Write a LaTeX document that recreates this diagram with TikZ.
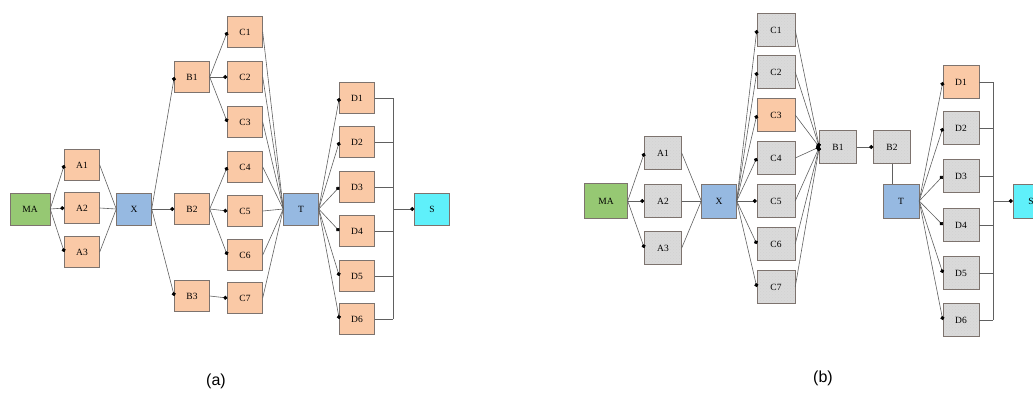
\documentclass[tikz,border=0pt]{standalone}
\usepackage{fontspec}
\setmainfont{Liberation Serif}
\newfontfamily\capfont{Liberation Sans}
\usetikzlibrary{arrows.meta,patterns}
\definecolor{peach}{RGB}{250,201,166}
\definecolor{boxline}{RGB}{125,115,110}
\definecolor{maGreen}{RGB}{150,200,115}
\definecolor{xBlue}{RGB}{150,185,225}
\definecolor{sCyan}{RGB}{95,240,250}
\definecolor{greybox}{RGB}{218,218,218}
\tikzset{box/.style = {draw=boxline, fill=peach, minimum width=35, minimum height=31, inner sep=0, font=\fontsize{9.5}{10}\selectfont}}
\tikzset{gbox/.style = {box, minimum width=37, minimum height=33, preaction={fill=greybox}, pattern=crosshatch dots, pattern color=gray!35}}
\tikzset{ar/.style = {-{Circle[length=4pt, black]}}}
\tikzset{wire/.style = {draw=gray!75!black, line width=0.6pt}}

\begin{document}
\begin{tikzpicture}[x=1pt, y=-1pt]
      \useasboundingbox (0, 0) rectangle (1033, 392);
      % (a)
      \node [box, fill=maGreen, minimum width=40, minimum height=32] (aMA) at (30, 209) {MA};
      \node [box] (aA1) at (82, 165) {A1};
      \node [box] (aA2) at (82, 208) {A2};
      \node [box] (aA3) at (82, 252) {A3};
      \node [box, fill=xBlue, minimum height=32] (aX) at (134, 209) {X};
      \node [box] (aB1) at (192, 77) {B1};
      \node [box] (aB2) at (192, 209) {B2};
      \node [box] (aB3) at (192, 296) {B3};
      \node [box] (aC1) at (245, 32) {C1};
      \node [box] (aC2) at (245, 77) {C2};
      \node [box] (aC3) at (245, 122) {C3};
      \node [box] (aC4) at (245, 167) {C4};
      \node [box] (aC5) at (245, 211) {C5};
      \node [box] (aC6) at (245, 255) {C6};
      \node [box] (aC7) at (245, 298) {C7};
      \node [box, fill=xBlue, minimum height=32] (aT) at (301, 209) {T};
      \node [box] (aD1) at (357, 98) {D1};
      \node [box] (aD2) at (357, 142) {D2};
      \node [box] (aD3) at (357, 187) {D3};
      \node [box] (aD4) at (357, 231) {D4};
      \node [box] (aD5) at (357, 276) {D5};
      \node [box] (aD6) at (357, 319) {D6};
      \node [box, fill=sCyan, minimum height=32] (aS) at (432, 209) {S};
      \coordinate (abus) at (393, 209);
      \foreach \i in {1,2,3} {
        \draw [wire, ar] (aMA.east) -- (aA\i.west);
        \draw [wire] (aA\i.east) -- (aX.west);
        \draw [wire, ar] (aX.east) -- (aB\i.west);
      }
      \foreach \i in {1,2,3} \draw [wire, ar] (aB1.east) -- (aC\i.west);
      \foreach \i in {4,5,6} \draw [wire, ar] (aB2.east) -- (aC\i.west);
      \draw [wire, ar] (aB3.east) -- (aC7.west);
      \foreach \i in {1,...,7} \draw [wire] (aC\i.east) -- (aT.west);
      \foreach \i in {1,...,6} {
        \draw [wire, ar] (aT.east) -- (aD\i.west);
        \draw [wire] (aD\i.east) -- (aD\i.east -| abus);
      }
      \draw [wire] (aD1.east -| abus) -- (aD6.east -| abus);
      \draw [wire, ar] (abus) -- (aS.west);
      \node [font=\capfont\fontsize{16}{18}\selectfont] (acap) at (216, 381) {(a)};
      % (b)
      \node [box, fill=maGreen, minimum width=43, minimum height=35] (bMA) at (606, 201) {MA};
      \node [gbox] (bA1) at (663, 153) {A1};
      \node [gbox] (bA2) at (663, 201) {A2};
      \node [gbox] (bA3) at (663, 248) {A3};
      \node [box, fill=xBlue, minimum width=35, minimum height=34] (bX) at (719, 201) {X};
      \node [gbox, minimum width=38] (bC1) at (776, 30) {C1};
      \node [gbox, minimum width=38] (bC2) at (776, 72) {C2};
      \node [box, minimum width=38, minimum height=33] (bC3) at (776, 115) {C3};
      \node [gbox, minimum width=38] (bC4) at (776, 158) {C4};
      \node [gbox, minimum width=38] (bC5) at (776, 201) {C5};
      \node [gbox, minimum width=38] (bC6) at (776, 244) {C6};
      \node [gbox, minimum width=38] (bC7) at (776, 287) {C7};
      \node [gbox] (bB1) at (838, 147) {B1};
      \node [gbox] (bB2) at (892, 147) {B2};
      \node [box, fill=xBlue, minimum width=36, minimum height=34] (bT) at (901, 201) {T};
      \node [box, minimum width=36, minimum height=33] (bD1) at (961, 82) {D1};
      \node [gbox, minimum width=36] (bD2) at (961, 128) {D2};
      \node [gbox, minimum width=36] (bD3) at (961, 176) {D3};
      \node [gbox, minimum width=36] (bD4) at (961, 225) {D4};
      \node [gbox, minimum width=36] (bD5) at (961, 273) {D5};
      \node [gbox, minimum width=36] (bD6) at (961, 320) {D6};
      \node [box, fill=sCyan, minimum width=36, minimum height=34] (bS) at (1031, 201) {S};
      \coordinate (bbus) at (993, 201);
      \foreach \i in {1,2,3} {
        \draw [wire, ar] (bMA.east) -- (bA\i.west);
        \draw [wire] (bA\i.east) -- (bX.west);
      }
      \foreach \i in {1,...,7} {
        \draw [wire, ar] (bX.east) -- (bC\i.west);
        \draw [wire, ar] (bC\i.east) -- (bB1.west);
      }
      \draw [wire, ar] (bB1.east) -- (bB2.west);
      \draw [wire] (bB2.south) -- (bB2.south |- bT.north);
      \foreach \i in {1,...,6} {
        \draw [wire, ar] (bT.east) -- (bD\i.west);
        \draw [wire] (bD\i.east) -- (bD\i.east -| bbus);
      }
      \draw [wire] (bD1.east -| bbus) -- (bD6.east -| bbus);
      \draw [wire, ar] (bbus) -- (bS.west);
      \node [font=\capfont\fontsize{16}{18}\selectfont] (bcap) at (823, 378) {(b)};
\end{tikzpicture}
\end{document}
